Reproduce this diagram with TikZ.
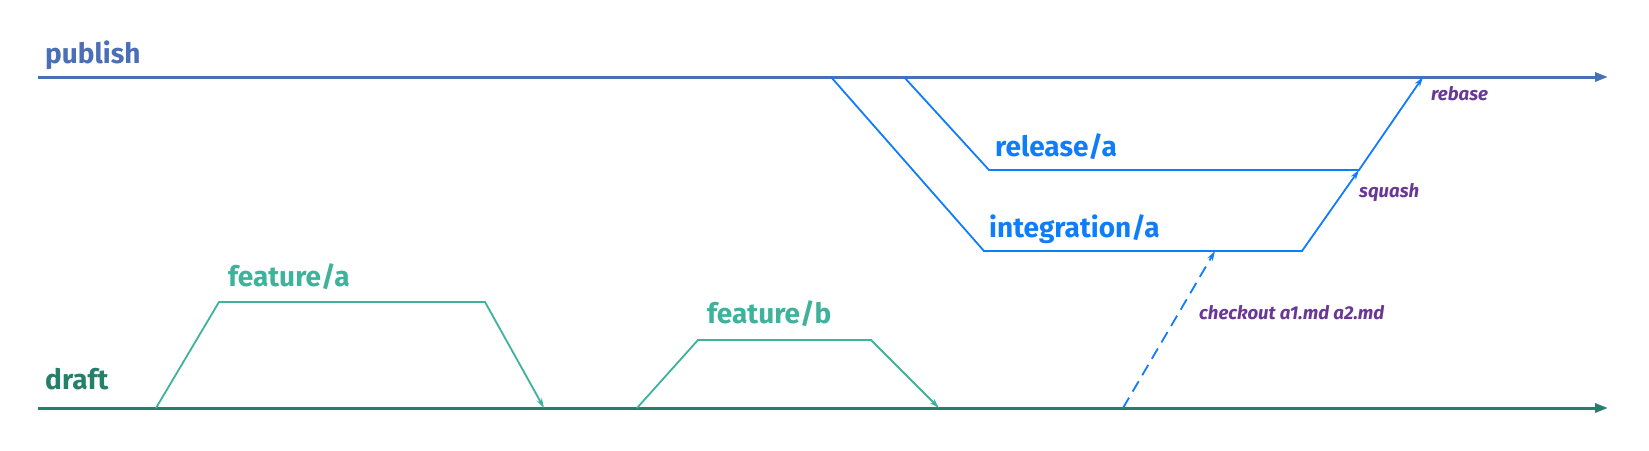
\documentclass[tikz,border=0pt]{standalone}
\usepackage{fontspec}
\setmainfont{Fira Sans}
\usetikzlibrary{arrows.meta,positioning,calc}
\definecolor{pubblue}{RGB}{75,111,182}
\definecolor{relblue}{RGB}{15,124,250}
\definecolor{draftgreen}{RGB}{37,128,106}
\definecolor{featgreen}{RGB}{62,178,155}
\definecolor{notepurple}{RGB}{106,55,150}
\tikzset{
	trunk/.style={line width=3pt, -{Triangle[length=13pt,width=9pt]}},
	twig/.style={line width=1.8pt, line join=miter},
	tipped/.style={-{Stealth[length=10pt,width=6pt]}},
	branchlabel/.style={font=\bfseries\fontsize{28}{32}\selectfont, anchor=base west, inner sep=0pt},
	notelabel/.style={font=\bfseries\itshape\fontsize{18.6}{22}\selectfont, text=notepurple, anchor=base west, inner sep=0pt}
}
\begin{document}
\begin{tikzpicture}[x=1pt, y=-1pt]
	\useasboundingbox (0,0) rectangle (1649,450);
	% main lines
	\coordinate (P0) at (38,77);
	\coordinate (P1) at (1608,77);
	\coordinate (D0) at (38,408);
	\coordinate (D1) at (1608,408);
	\draw[trunk, pubblue] (P0)--(P1);
	\draw[trunk, draftgreen] (D0)--(D1);
	\node[branchlabel, text=pubblue] (publish) at (45,63) {publish};
	\node[branchlabel, text=draftgreen] (draft) at (45,389) {draft};
	% feature branches
	\coordinate (FA0) at (156,408);
	\coordinate (FA1) at (219,302);
	\coordinate (FA2) at (485,302);
	\coordinate (FA3) at (544,408);
	\coordinate (FB0) at (637,408);
	\coordinate (FB1) at (698,340);
	\coordinate (FB2) at (871,340);
	\coordinate (FB3) at (939,408);
	\draw[twig, tipped, featgreen] (FA0)--(FA1)--(FA2)--(FA3);
	\draw[twig, tipped, featgreen] (FB0)--(FB1)--(FB2)--(FB3);
	\node[branchlabel, text=featgreen] (feata) at (228,286) {feature/a};
	\node[branchlabel, text=featgreen] (featb) at (707,323) {feature/b};
	% integration and release
	\coordinate (I0) at (831,77);
	\coordinate (I1) at (984,251);
	\coordinate (I2) at (1302,251);
	\coordinate (R0) at (904,77);
	\coordinate (R1) at (989,170);
	\coordinate (R2) at (1359,170);
	\coordinate (R3) at (1423,77);
	\coordinate (C0) at (1123,408);
	\coordinate (C1) at (1215,251);
	\draw[twig, tipped, relblue] (I0)--(I1)--(I2)--(R2);
	\draw[twig, tipped, relblue] (R0)--(R1)--(R2)--(R3);
	\draw[twig, tipped, relblue, dash pattern=on 12pt off 7pt] (C0)--(C1);
	\node[branchlabel, text=relblue] (rel) at (995,156) {release/a};
	\node[branchlabel, text=relblue] (integ) at (989,237) {integration/a};
	% notes
	\node[notelabel] (rebase) at (1431,100) {rebase};
	\node[notelabel] (squash) at (1359,197) {squash};
	\node[notelabel] (checkout) at (1199,319) {checkout a1.md a2.md};
\end{tikzpicture}
\end{document}
